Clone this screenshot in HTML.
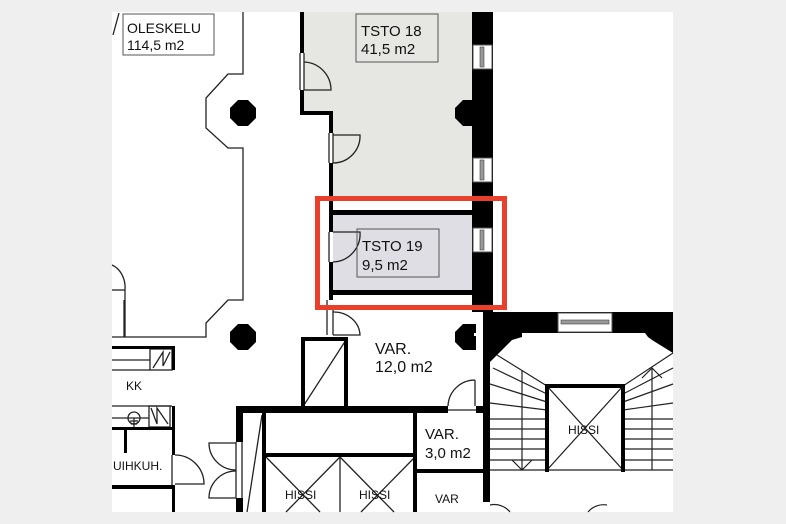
<!DOCTYPE html>
<html><head><meta charset="utf-8"><style>
html,body{margin:0;padding:0;background:#eeefee;}
svg{display:block}
text{font-family:"Liberation Sans",sans-serif;fill:#111}
</style></head><body>
<svg width="786" height="524" viewBox="0 0 786 524" xmlns="http://www.w3.org/2000/svg">
<rect x="0" y="0" width="786" height="524" fill="#eeefee"/>
<rect x="112" y="12" width="561" height="500" fill="#fff"/>
<!-- TSTO 18 fill -->
<path d="M304,12 H472 V198 H333 V115 H304 Z" fill="#e6e6e2"/>
<!-- TSTO 19 fill -->
<rect x="333" y="214" width="139" height="77" fill="#dedee4"/>

<g fill="none" stroke="#222" stroke-width="1.3">
<line x1="113" y1="35" x2="119" y2="13"/>
<polyline points="243,12 243,74 228,74 206,98 206,128 228,148 243,148 243,300 228,300 206,323 206,337 112,337"/>
<line x1="124" y1="300" x2="124" y2="337"/>
<path d="M112,265 A20,24 0 0 1 125,290 V337"/>
<line x1="112" y1="290" x2="125" y2="290"/>
<path d="M304,62 A28,28 0 0 1 331,90 H304"/>
<line x1="300" y1="53" x2="300" y2="90"/><line x1="304" y1="53" x2="304" y2="90"/>
<path d="M333,135 H360 A27,27 0 0 1 333,163"/>
<line x1="329" y1="133" x2="329" y2="163"/><line x1="333" y1="133" x2="333" y2="163"/>
<path d="M333,232 H360 A28,28 0 0 1 333,262"/>
<line x1="329" y1="232" x2="329" y2="262"/>
<path d="M333,312 A26,24 0 0 1 360,335 H333"/>
<line x1="327" y1="300" x2="327" y2="335"/><line x1="333" y1="310" x2="333" y2="335"/>
<path d="M475,380 A27,27 0 0 0 448,406"/><line x1="475" y1="380" x2="475" y2="406"/>
<line x1="448" y1="410" x2="476" y2="410"/>
<line x1="304" y1="405" x2="346" y2="340"/>
<path d="M236,443 H209 A27,27 0 0 0 236,470"/>
<path d="M236,498 H209 A27,27 0 0 1 236,471"/>
<line x1="236" y1="442" x2="236" y2="498"/><line x1="242" y1="442" x2="242" y2="498"/>
<line x1="247" y1="512" x2="262" y2="415"/>
<line x1="340" y1="457" x2="340" y2="512"/>
<line x1="266" y1="457" x2="320" y2="512"/><line x1="340" y1="457" x2="286" y2="512"/>
<line x1="340" y1="457" x2="394" y2="512"/><line x1="415" y1="457" x2="361" y2="512"/>
<line x1="112" y1="360" x2="150" y2="360"/><line x1="112" y1="370" x2="150" y2="370"/>
<rect x="150" y="349" width="22" height="21"/>
<polyline points="153,368 163,352 163,366 170,352"/>
<line x1="112" y1="406" x2="172" y2="406"/><line x1="112" y1="418" x2="149" y2="418"/>
<rect x="149" y="406" width="21" height="21"/>
<polyline points="151,408 157,424 157,408 168,424"/>
<circle cx="134" cy="418" r="6"/>
<line x1="134" y1="418" x2="134" y2="427"/><line x1="130" y1="421" x2="138" y2="421"/><line x1="131" y1="424" x2="137" y2="424"/>
<path d="M175,455 A29,29 0 0 1 204,484 H175"/>
<line x1="172" y1="455" x2="172" y2="485"/>
<line x1="547" y1="386" x2="623" y2="470"/><line x1="623" y1="386" x2="547" y2="470"/>
<g stroke-width="1.2">
<line x1="490" y1="419" x2="547" y2="419"/><line x1="490" y1="429" x2="547" y2="429"/>
<line x1="490" y1="439" x2="547" y2="439"/><line x1="490" y1="449" x2="547" y2="449"/>
<line x1="490" y1="460" x2="547" y2="460"/><line x1="490" y1="470" x2="673" y2="470"/>
<line x1="490" y1="403" x2="547" y2="410"/><line x1="490" y1="384" x2="547" y2="402"/>
<line x1="493" y1="368" x2="547" y2="394"/><line x1="497" y1="355" x2="547" y2="386"/>
<line x1="623" y1="419" x2="673" y2="419"/><line x1="623" y1="429" x2="673" y2="429"/>
<line x1="623" y1="439" x2="673" y2="439"/><line x1="623" y1="449" x2="673" y2="449"/>
<line x1="623" y1="460" x2="673" y2="460"/>
<line x1="623" y1="410" x2="673" y2="403"/><line x1="623" y1="402" x2="673" y2="384"/>
<line x1="623" y1="394" x2="673" y2="368"/><line x1="623" y1="386" x2="673" y2="353"/>
<line x1="522" y1="370" x2="522" y2="470"/><polyline points="512,460 522,470 532,460"/>
<line x1="652" y1="368" x2="652" y2="470"/><polyline points="642,378 652,368 662,378"/>
<path d="M490,505 A20,20 0 0 1 510,512"/><path d="M607,505 A20,20 0 0 0 588,512"/>
</g>
</g>

<g fill="#000">
<rect x="300" y="12" width="4" height="41"/><rect x="300" y="90" width="4" height="25"/>
<rect x="300" y="111" width="33" height="4"/>
<rect x="329" y="111" width="4" height="22"/><rect x="329" y="163" width="4" height="69"/>
<rect x="329" y="262" width="4" height="38"/>
<rect x="330" y="210" width="142" height="5"/><rect x="330" y="290" width="142" height="5"/>
<rect x="472" y="12" width="21" height="300"/>
<path d="M472,100 H463 L455,108 V118 L463,126 H472 Z"/>
<polygon points="238,100 248,100 256,108 256,118 248,126 238,126 230,118 230,108"/>
<polygon points="238,324 248,324 256,332 256,342 248,350 238,350 230,342 230,332"/>
<path d="M476,324 H463 L455,332 V342 L463,350 H476 Z"/>
<rect x="483" y="312" width="190" height="21"/>
<rect x="483" y="312" width="7" height="190"/>
<path d="M490,333 H522 V337 L512,340 L490,362 Z"/>
<path d="M645,333 H673 V353 L652,340 L648,337 Z"/>
<rect x="545" y="384" width="4" height="88"/><rect x="621" y="384" width="4" height="88"/><rect x="545" y="384" width="80" height="4"/>
<rect x="301" y="337" width="4" height="70"/><rect x="344" y="337" width="4" height="70"/><rect x="301" y="337" width="47" height="4"/>
<rect x="236" y="406" width="212" height="7"/>
<rect x="476" y="406" width="8" height="7"/>
<rect x="236" y="406" width="7" height="36"/><rect x="236" y="498" width="7" height="14"/>
<rect x="262" y="413" width="4" height="99"/>
<rect x="266" y="453" width="149" height="4"/>
<rect x="413" y="413" width="4" height="99"/>
<rect x="417" y="469" width="66" height="4"/>
<rect x="112" y="346" width="63" height="3"/><rect x="172" y="346" width="3" height="24"/>
<rect x="172" y="406" width="3" height="49"/><rect x="172" y="485" width="3" height="27"/>
<rect x="112" y="427" width="63" height="3"/>
<rect x="124" y="430" width="3" height="23"/>
<rect x="112" y="485" width="63" height="4"/>
</g>
<rect x="474" y="333" width="8" height="3" fill="#fff"/>
<g fill="#fff" stroke="#555" stroke-width="1">
<rect x="473" y="45" width="19" height="24"/><rect x="473" y="158" width="19" height="24"/><rect x="473" y="228" width="19" height="24"/>
<rect x="558" y="313" width="54" height="19"/>
</g>
<g fill="#999" stroke="#444" stroke-width="0.6">
<rect x="480" y="47" width="4" height="20"/><rect x="480" y="160" width="4" height="20"/><rect x="480" y="230" width="4" height="20"/>
<rect x="561" y="320" width="48" height="4"/>
</g>

<g fill="none" stroke="#555" stroke-width="1">
<rect x="123" y="14" width="91" height="41"/>
<rect x="356" y="14" width="82" height="48"/>
<rect x="357" y="229" width="82" height="48"/>
</g>
<text x="127" y="33" font-size="14">OLESKELU</text>
<text x="127" y="50" font-size="14">114,5 m2</text>
<text x="361" y="36" font-size="15">TSTO 18</text>
<text x="361" y="54" font-size="15">41,5 m2</text>
<text x="362" y="251" font-size="15">TSTO 19</text>
<text x="362" y="270" font-size="15">9,5 m2</text>
<text x="375" y="354" font-size="16">VAR.</text>
<text x="375" y="372" font-size="16">12,0 m2</text>
<text x="425" y="439" font-size="15">VAR.</text>
<text x="425" y="458" font-size="15">3,0 m2</text>
<text x="435" y="503" font-size="12">VAR</text>
<text x="285" y="499" font-size="12">HISSI</text>
<text x="359" y="499" font-size="12">HISSI</text>
<text x="568" y="434" font-size="12">HISSI</text>
<text x="126" y="390" font-size="12">KK</text>
<text x="113" y="470" font-size="12">UIHKUH.</text>

<rect x="317.5" y="198.5" width="187" height="109" fill="none" stroke="#e8402a" stroke-width="5"/>
</svg>
</body></html>
